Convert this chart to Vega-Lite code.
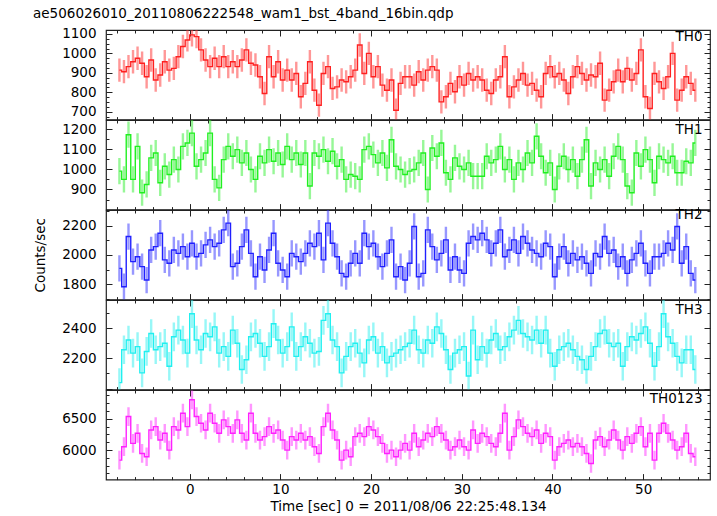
{
"$schema": "https://vega.github.io/schema/vega-lite/v6.json",
"padding": {"left": 33, "top": 6, "right": 5, "bottom": 5},
"title": {"text": "ae506026010_20110806222548_wam1_bst_4band_16bin.qdp", "anchor": "start", "fontSize": 13.5, "fontWeight": "normal", "font": "DejaVu Sans", "color": "#000", "offset": 6},
"datasets": {
"errs": [{"band":"TH0","err":60},{"band":"TH1","err":65},{"band":"TH2","err":90},{"band":"TH3","err":95},{"band":"TH0123","err":150}],
"lc": [
{"t":-7.75,"TH0":914,"TH1":991,"TH2":1908,"TH3":2039,"TH0123":5839},
{"t":-7.25,"TH0":906,"TH1":950,"TH2":1782,"TH3":2257,"TH0123":6054},
{"t":-6.75,"TH0":932,"TH1":1172,"TH2":2126,"TH3":2322,"TH0123":6538},
{"t":-6.25,"TH0":957,"TH1":950,"TH2":1954,"TH3":2235,"TH0123":6108},
{"t":-5.75,"TH0":975,"TH1":1114,"TH2":1988,"TH3":2278,"TH0123":6269},
{"t":-5.25,"TH0":949,"TH1":884,"TH2":1920,"TH3":2104,"TH0123":5946},
{"t":-4.75,"TH0":880,"TH1":925,"TH2":1828,"TH3":2246,"TH0123":5893},
{"t":-4.25,"TH0":966,"TH1":1057,"TH2":2034,"TH3":2365,"TH0123":6323},
{"t":-3.75,"TH0":863,"TH1":1081,"TH2":2057,"TH3":2257,"TH0123":6376},
{"t":-3.25,"TH0":889,"TH1":933,"TH2":2149,"TH3":2278,"TH0123":6161},
{"t":-2.75,"TH0":957,"TH1":1015,"TH2":1966,"TH3":2300,"TH0123":6269},
{"t":-2.25,"TH0":914,"TH1":974,"TH2":1943,"TH3":2148,"TH0123":6000},
{"t":-1.75,"TH0":923,"TH1":1048,"TH2":2034,"TH3":2343,"TH0123":6376},
{"t":-1.25,"TH0":983,"TH1":999,"TH2":2011,"TH3":2387,"TH0123":6323},
{"t":-0.75,"TH0":1035,"TH1":1114,"TH2":2057,"TH3":2322,"TH0123":6591},
{"t":-0.25,"TH0":1069,"TH1":1131,"TH2":1988,"TH3":2235,"TH0123":6376},
{"t":0.25,"TH0":1095,"TH1":1180,"TH2":2080,"TH3":2496,"TH0123":6806},
{"t":0.75,"TH0":1086,"TH1":1015,"TH2":1988,"TH3":2322,"TH0123":6538},
{"t":1.25,"TH0":1018,"TH1":1048,"TH2":2011,"TH3":2257,"TH0123":6430},
{"t":1.75,"TH0":966,"TH1":1081,"TH2":2069,"TH3":2365,"TH0123":6323},
{"t":2.25,"TH0":932,"TH1":1180,"TH2":2103,"TH3":2343,"TH0123":6591},
{"t":2.75,"TH0":975,"TH1":950,"TH2":2057,"TH3":2409,"TH0123":6430},
{"t":3.25,"TH0":932,"TH1":908,"TH2":2080,"TH3":2235,"TH0123":6269},
{"t":3.75,"TH0":983,"TH1":1048,"TH2":2172,"TH3":2278,"TH0123":6484},
{"t":4.25,"TH0":932,"TH1":1114,"TH2":2218,"TH3":2213,"TH0123":6376},
{"t":4.75,"TH0":957,"TH1":1065,"TH2":1920,"TH3":2387,"TH0123":6269},
{"t":5.25,"TH0":932,"TH1":1098,"TH2":1943,"TH3":2300,"TH0123":6484},
{"t":5.75,"TH0":966,"TH1":1032,"TH2":2057,"TH3":2126,"TH0123":6269},
{"t":6.25,"TH0":1018,"TH1":1081,"TH2":2172,"TH3":2191,"TH0123":6161},
{"t":6.75,"TH0":949,"TH1":999,"TH2":2011,"TH3":2343,"TH0123":6591},
{"t":7.25,"TH0":940,"TH1":950,"TH2":1851,"TH3":2365,"TH0123":6269},
{"t":7.75,"TH0":880,"TH1":1065,"TH2":1988,"TH3":2300,"TH0123":6161},
{"t":8.25,"TH0":794,"TH1":1032,"TH2":1897,"TH3":2213,"TH0123":6215},
{"t":8.75,"TH0":983,"TH1":1098,"TH2":2034,"TH3":2278,"TH0123":6376},
{"t":9.25,"TH0":880,"TH1":1040,"TH2":2149,"TH3":2430,"TH0123":6269},
{"t":9.75,"TH0":957,"TH1":1081,"TH2":1943,"TH3":2322,"TH0123":6323},
{"t":10.25,"TH0":863,"TH1":1024,"TH2":1897,"TH3":2235,"TH0123":6161},
{"t":10.75,"TH0":914,"TH1":1114,"TH2":1851,"TH3":2278,"TH0123":6000},
{"t":11.25,"TH0":863,"TH1":1048,"TH2":2011,"TH3":2409,"TH0123":6215},
{"t":11.75,"TH0":897,"TH1":1081,"TH2":1988,"TH3":2213,"TH0123":6161},
{"t":12.25,"TH0":777,"TH1":1024,"TH2":1954,"TH3":2278,"TH0123":6269},
{"t":12.75,"TH0":846,"TH1":1081,"TH2":2011,"TH3":2343,"TH0123":6161},
{"t":13.25,"TH0":957,"TH1":917,"TH2":2080,"TH3":2300,"TH0123":6215},
{"t":13.75,"TH0":811,"TH1":1081,"TH2":2057,"TH3":2235,"TH0123":6054},
{"t":14.25,"TH0":734,"TH1":1065,"TH2":2149,"TH3":2246,"TH0123":5946},
{"t":14.75,"TH0":897,"TH1":1098,"TH2":1966,"TH3":2452,"TH0123":6376},
{"t":15.25,"TH0":932,"TH1":1040,"TH2":2218,"TH3":2496,"TH0123":6591},
{"t":15.75,"TH0":820,"TH1":1090,"TH2":2080,"TH3":2322,"TH0123":6323},
{"t":16.25,"TH0":828,"TH1":1015,"TH2":1988,"TH3":2278,"TH0123":6161},
{"t":16.75,"TH0":863,"TH1":1048,"TH2":1874,"TH3":2104,"TH0123":5839},
{"t":17.25,"TH0":854,"TH1":950,"TH2":1851,"TH3":2213,"TH0123":6000},
{"t":17.75,"TH0":880,"TH1":974,"TH2":1943,"TH3":2278,"TH0123":5893},
{"t":18.25,"TH0":914,"TH1":966,"TH2":2011,"TH3":2300,"TH0123":6215},
{"t":18.75,"TH0":1043,"TH1":950,"TH2":1943,"TH3":2235,"TH0123":6269},
{"t":19.25,"TH0":897,"TH1":1098,"TH2":2149,"TH3":2170,"TH0123":6215},
{"t":19.75,"TH0":1000,"TH1":1114,"TH2":2057,"TH3":2322,"TH0123":6376},
{"t":20.25,"TH0":880,"TH1":1073,"TH2":2080,"TH3":2343,"TH0123":6323},
{"t":20.75,"TH0":932,"TH1":1032,"TH2":1988,"TH3":2235,"TH0123":6215},
{"t":21.25,"TH0":837,"TH1":1081,"TH2":1920,"TH3":2278,"TH0123":6108},
{"t":21.75,"TH0":811,"TH1":1007,"TH2":2011,"TH3":2170,"TH0123":5946},
{"t":22.25,"TH0":863,"TH1":1147,"TH2":2103,"TH3":2213,"TH0123":6000},
{"t":22.75,"TH0":708,"TH1":1015,"TH2":1851,"TH3":2235,"TH0123":5893},
{"t":23.25,"TH0":846,"TH1":999,"TH2":1920,"TH3":2257,"TH0123":6000},
{"t":23.75,"TH0":880,"TH1":974,"TH2":1828,"TH3":2278,"TH0123":6108},
{"t":24.25,"TH0":880,"TH1":991,"TH2":1943,"TH3":2300,"TH0123":6000},
{"t":24.75,"TH0":837,"TH1":999,"TH2":2195,"TH3":2387,"TH0123":6269},
{"t":25.25,"TH0":906,"TH1":1032,"TH2":1851,"TH3":2257,"TH0123":6054},
{"t":25.75,"TH0":863,"TH1":1081,"TH2":1874,"TH3":2235,"TH0123":6161},
{"t":26.25,"TH0":914,"TH1":900,"TH2":2172,"TH3":2322,"TH0123":6269},
{"t":26.75,"TH0":932,"TH1":1106,"TH2":2057,"TH3":2300,"TH0123":6215},
{"t":27.25,"TH0":914,"TH1":1065,"TH2":1966,"TH3":2409,"TH0123":6376},
{"t":27.75,"TH0":751,"TH1":1131,"TH2":2011,"TH3":2365,"TH0123":6269},
{"t":28.25,"TH0":777,"TH1":983,"TH2":2103,"TH3":2257,"TH0123":6161},
{"t":28.75,"TH0":846,"TH1":950,"TH2":1897,"TH3":2126,"TH0123":6000},
{"t":29.25,"TH0":803,"TH1":1057,"TH2":1988,"TH3":2235,"TH0123":6054},
{"t":29.75,"TH0":880,"TH1":1015,"TH2":1897,"TH3":2257,"TH0123":6161},
{"t":30.25,"TH0":837,"TH1":999,"TH2":1874,"TH3":2278,"TH0123":6054},
{"t":30.75,"TH0":897,"TH1":1032,"TH2":2080,"TH3":2083,"TH0123":6000},
{"t":31.25,"TH0":863,"TH1":966,"TH2":2126,"TH3":2387,"TH0123":6323},
{"t":31.75,"TH0":880,"TH1":966,"TH2":2103,"TH3":2191,"TH0123":6108},
{"t":32.25,"TH0":863,"TH1":966,"TH2":2149,"TH3":2278,"TH0123":6269},
{"t":32.75,"TH0":811,"TH1":1065,"TH2":2103,"TH3":2235,"TH0123":6215},
{"t":33.25,"TH0":794,"TH1":1032,"TH2":2011,"TH3":2322,"TH0123":6108},
{"t":33.75,"TH0":863,"TH1":1048,"TH2":2080,"TH3":2365,"TH0123":6054},
{"t":34.25,"TH0":880,"TH1":1114,"TH2":2172,"TH3":2257,"TH0123":6269},
{"t":34.75,"TH0":983,"TH1":999,"TH2":1988,"TH3":2278,"TH0123":6591},
{"t":35.25,"TH0":777,"TH1":1048,"TH2":2034,"TH3":2343,"TH0123":6000},
{"t":35.75,"TH0":828,"TH1":950,"TH2":2103,"TH3":2387,"TH0123":6215},
{"t":36.25,"TH0":863,"TH1":1032,"TH2":2011,"TH3":2452,"TH0123":6484},
{"t":36.75,"TH0":897,"TH1":999,"TH2":2126,"TH3":2365,"TH0123":6376},
{"t":37.25,"TH0":837,"TH1":1081,"TH2":2080,"TH3":2343,"TH0123":6269},
{"t":37.75,"TH0":846,"TH1":1032,"TH2":2034,"TH3":2322,"TH0123":6215},
{"t":38.25,"TH0":811,"TH1":1164,"TH2":2011,"TH3":2387,"TH0123":6323},
{"t":38.75,"TH0":777,"TH1":1065,"TH2":1988,"TH3":2300,"TH0123":6108},
{"t":39.25,"TH0":897,"TH1":983,"TH2":2080,"TH3":2387,"TH0123":6269},
{"t":39.75,"TH0":932,"TH1":1032,"TH2":2057,"TH3":2235,"TH0123":6215},
{"t":40.25,"TH0":880,"TH1":900,"TH2":1851,"TH3":2148,"TH0123":5839},
{"t":40.75,"TH0":897,"TH1":1015,"TH2":1988,"TH3":2257,"TH0123":6054},
{"t":41.25,"TH0":863,"TH1":1065,"TH2":2057,"TH3":2278,"TH0123":6108},
{"t":41.75,"TH0":794,"TH1":999,"TH2":1943,"TH3":2300,"TH0123":6161},
{"t":42.25,"TH0":880,"TH1":1048,"TH2":2011,"TH3":2257,"TH0123":6054},
{"t":42.75,"TH0":932,"TH1":966,"TH2":1966,"TH3":2213,"TH0123":6108},
{"t":43.25,"TH0":897,"TH1":1048,"TH2":1988,"TH3":2191,"TH0123":6054},
{"t":43.75,"TH0":863,"TH1":1147,"TH2":1943,"TH3":2126,"TH0123":5946},
{"t":44.25,"TH0":889,"TH1":917,"TH2":1874,"TH3":2213,"TH0123":5785},
{"t":44.75,"TH0":880,"TH1":1032,"TH2":2011,"TH3":2278,"TH0123":6161},
{"t":45.25,"TH0":949,"TH1":999,"TH2":1988,"TH3":2365,"TH0123":6215},
{"t":45.75,"TH0":760,"TH1":1048,"TH2":2126,"TH3":2387,"TH0123":6054},
{"t":46.25,"TH0":811,"TH1":966,"TH2":2011,"TH3":2300,"TH0123":6161},
{"t":46.75,"TH0":854,"TH1":1065,"TH2":2034,"TH3":2278,"TH0123":6323},
{"t":47.25,"TH0":914,"TH1":1114,"TH2":1920,"TH3":2300,"TH0123":6161},
{"t":47.75,"TH0":854,"TH1":1048,"TH2":1988,"TH3":2148,"TH0123":6000},
{"t":48.25,"TH0":923,"TH1":917,"TH2":1874,"TH3":2278,"TH0123":6215},
{"t":48.75,"TH0":863,"TH1":884,"TH2":1966,"TH3":2343,"TH0123":6108},
{"t":49.25,"TH0":897,"TH1":1081,"TH2":2011,"TH3":2322,"TH0123":6269},
{"t":49.75,"TH0":1018,"TH1":1015,"TH2":2080,"TH3":2365,"TH0123":6376},
{"t":50.25,"TH0":777,"TH1":1098,"TH2":1943,"TH3":2409,"TH0123":6054},
{"t":50.75,"TH0":717,"TH1":1048,"TH2":1874,"TH3":2300,"TH0123":6269},
{"t":51.25,"TH0":897,"TH1":933,"TH2":1988,"TH3":2148,"TH0123":5839},
{"t":51.75,"TH0":854,"TH1":1065,"TH2":1988,"TH3":2278,"TH0123":6269},
{"t":52.25,"TH0":820,"TH1":1048,"TH2":2011,"TH3":2496,"TH0123":6430},
{"t":52.75,"TH0":880,"TH1":1032,"TH2":2080,"TH3":2343,"TH0123":6269},
{"t":53.25,"TH0":1000,"TH1":1065,"TH2":2034,"TH3":2300,"TH0123":6161},
{"t":53.75,"TH0":760,"TH1":983,"TH2":2195,"TH3":2213,"TH0123":6000},
{"t":54.25,"TH0":811,"TH1":983,"TH2":1943,"TH3":2170,"TH0123":6054},
{"t":54.75,"TH0":880,"TH1":1040,"TH2":2057,"TH3":2257,"TH0123":6269},
{"t":55.25,"TH0":846,"TH1":1032,"TH2":1874,"TH3":2257,"TH0123":5946},
{"t":55.75,"TH0":811,"TH1":1131,"TH2":1828,"TH3":2126,"TH0123":5893}
]},
"data": {"name": "lc"},
"spacing": 0,
"bounds": "flush",
"vconcat": [
{
"width": 604, "height": 89.6,
"title": {"text": "TH0", "anchor": "end", "offset": -17, "dx": -8},
"transform": [{"fold": ["TH0"], "as": ["band", "v"]}, {"lookup": "band", "from": {"data": {"name": "errs"}, "key": "band", "fields": ["err"]}}],
"layer": [
{"mark": {"type": "errorbar", "color": "#ff3030", "opacity": 0.5, "thickness": 2.4, "clip": true},
"encoding": {
"x": {"field": "t", "type": "quantitative", "scale": {"domain": [-9.23, 57.37], "nice": false, "zero": false}, "axis": {"orient": "bottom", "labels": false, "title": null, "values": [-8,-6,-4,-2,0,2,4,6,8,10,12,14,16,18,20,22,24,26,28,30,32,34,36,38,40,42,44,46,48,50,52,54,56], "tickDash": {"condition": {"test": "datum.value % 10 !== 0", "value": [3, 40]}, "value": [8, 0]}}},
"y": {"field": "v", "type": "quantitative", "scale": {"domain": [660, 1120], "nice": false, "zero": false}, "axis": {"orient": "left", "title": null, "format": "d", "values": [675,700,725,750,775,800,825,850,875,900,925,950,975,1000,1025,1050,1075,1100], "labelExpr": "datum.value % 100 === 0 ? datum.label : ''", "tickDash": {"condition": {"test": "datum.value % 100 !== 0", "value": [3, 40]}, "value": [8, 0]}}},
"yError": {"field": "err"}}},
{"mark": {"type": "line", "interpolate": "step", "color": "#ff2020", "strokeWidth": 1.4, "clip": true},
"encoding": {
"x": {"field": "t", "type": "quantitative", "axis": {"orient": "top", "labels": false, "title": null, "values": [-8,-6,-4,-2,0,2,4,6,8,10,12,14,16,18,20,22,24,26,28,30,32,34,36,38,40,42,44,46,48,50,52,54,56], "tickDash": {"condition": {"test": "datum.value % 10 !== 0", "value": [3, 40]}, "value": [8, 0]}}},
"y": {"field": "v", "type": "quantitative", "axis": {"orient": "right", "labels": false, "title": null, "values": [675,700,725,750,775,800,825,850,875,900,925,950,975,1000,1025,1050,1075,1100], "tickDash": {"condition": {"test": "datum.value % 100 !== 0", "value": [3, 40]}, "value": [8, 0]}}}}}
],
"resolve": {"axis": {"x": "independent", "y": "independent"}}
},
{
"width": 604, "height": 89.6,
"title": {"text": "TH1", "anchor": "end", "offset": -17, "dx": -8},
"transform": [{"fold": ["TH1"], "as": ["band", "v"]}, {"lookup": "band", "from": {"data": {"name": "errs"}, "key": "band", "fields": ["err"]}}],
"layer": [
{"mark": {"type": "errorbar", "color": "#30f030", "opacity": 0.5, "thickness": 2.4, "clip": true},
"encoding": {
"x": {"field": "t", "type": "quantitative", "scale": {"domain": [-9.23, 57.37], "nice": false, "zero": false}, "axis": {"orient": "bottom", "labels": false, "title": null, "values": [-8,-6,-4,-2,0,2,4,6,8,10,12,14,16,18,20,22,24,26,28,30,32,34,36,38,40,42,44,46,48,50,52,54,56], "tickDash": {"condition": {"test": "datum.value % 10 !== 0", "value": [3, 40]}, "value": [8, 0]}}},
"y": {"field": "v", "type": "quantitative", "scale": {"domain": [800, 1245], "nice": false, "zero": false}, "axis": {"orient": "left", "title": null, "format": "d", "values": [850,900,950,1000,1050,1100,1150,1200], "labelExpr": "datum.value % 100 === 0 ? datum.label : ''", "tickDash": {"condition": {"test": "datum.value % 100 !== 0", "value": [3, 40]}, "value": [8, 0]}}},
"yError": {"field": "err"}}},
{"mark": {"type": "line", "interpolate": "step", "color": "#20f020", "strokeWidth": 1.4, "clip": true},
"encoding": {
"x": {"field": "t", "type": "quantitative", "axis": {"orient": "top", "labels": false, "title": null, "values": [-8,-6,-4,-2,0,2,4,6,8,10,12,14,16,18,20,22,24,26,28,30,32,34,36,38,40,42,44,46,48,50,52,54,56], "tickDash": {"condition": {"test": "datum.value % 10 !== 0", "value": [3, 40]}, "value": [8, 0]}}},
"y": {"field": "v", "type": "quantitative", "axis": {"orient": "right", "labels": false, "title": null, "values": [850,900,950,1000,1050,1100,1150,1200], "tickDash": {"condition": {"test": "datum.value % 100 !== 0", "value": [3, 40]}, "value": [8, 0]}}}}}
],
"resolve": {"axis": {"x": "independent", "y": "independent"}}
},
{
"width": 604, "height": 89.6,
"title": {"text": "TH2", "anchor": "end", "offset": -17, "dx": -8},
"transform": [{"fold": ["TH2"], "as": ["band", "v"]}, {"lookup": "band", "from": {"data": {"name": "errs"}, "key": "band", "fields": ["err"]}}],
"layer": [
{"mark": {"type": "errorbar", "color": "#3030ff", "opacity": 0.5, "thickness": 2.4, "clip": true},
"encoding": {
"x": {"field": "t", "type": "quantitative", "scale": {"domain": [-9.23, 57.37], "nice": false, "zero": false}, "axis": {"orient": "bottom", "labels": false, "title": null, "values": [-8,-6,-4,-2,0,2,4,6,8,10,12,14,16,18,20,22,24,26,28,30,32,34,36,38,40,42,44,46,48,50,52,54,56], "tickDash": {"condition": {"test": "datum.value % 10 !== 0", "value": [3, 40]}, "value": [8, 0]}}},
"y": {"field": "v", "type": "quantitative", "scale": {"domain": [1694, 2308], "nice": false, "zero": false}, "axis": {"orient": "left", "title": "Counts/sec", "format": "d", "values": [1700,1800,1900,2000,2100,2200,2300], "labelExpr": "datum.value % 200 === 0 ? datum.label : ''", "tickDash": {"condition": {"test": "datum.value % 200 !== 0", "value": [3, 40]}, "value": [8, 0]}}},
"yError": {"field": "err"}}},
{"mark": {"type": "line", "interpolate": "step", "color": "#2020ff", "strokeWidth": 1.4, "clip": true},
"encoding": {
"x": {"field": "t", "type": "quantitative", "axis": {"orient": "top", "labels": false, "title": null, "values": [-8,-6,-4,-2,0,2,4,6,8,10,12,14,16,18,20,22,24,26,28,30,32,34,36,38,40,42,44,46,48,50,52,54,56], "tickDash": {"condition": {"test": "datum.value % 10 !== 0", "value": [3, 40]}, "value": [8, 0]}}},
"y": {"field": "v", "type": "quantitative", "axis": {"orient": "right", "labels": false, "title": null, "values": [1700,1800,1900,2000,2100,2200,2300], "tickDash": {"condition": {"test": "datum.value % 200 !== 0", "value": [3, 40]}, "value": [8, 0]}}}}}
],
"resolve": {"axis": {"x": "independent", "y": "independent"}}
},
{
"width": 604, "height": 89.6,
"title": {"text": "TH3", "anchor": "end", "offset": -17, "dx": -8},
"transform": [{"fold": ["TH3"], "as": ["band", "v"]}, {"lookup": "band", "from": {"data": {"name": "errs"}, "key": "band", "fields": ["err"]}}],
"layer": [
{"mark": {"type": "errorbar", "color": "#30f0f0", "opacity": 0.5, "thickness": 2.4, "clip": true},
"encoding": {
"x": {"field": "t", "type": "quantitative", "scale": {"domain": [-9.23, 57.37], "nice": false, "zero": false}, "axis": {"orient": "bottom", "labels": false, "title": null, "values": [-8,-6,-4,-2,0,2,4,6,8,10,12,14,16,18,20,22,24,26,28,30,32,34,36,38,40,42,44,46,48,50,52,54,56], "tickDash": {"condition": {"test": "datum.value % 10 !== 0", "value": [3, 40]}, "value": [8, 0]}}},
"y": {"field": "v", "type": "quantitative", "scale": {"domain": [1993, 2587], "nice": false, "zero": false}, "axis": {"orient": "left", "title": null, "format": "d", "values": [2000,2100,2200,2300,2400,2500], "labelExpr": "(datum.value === 2200 || datum.value === 2400) ? datum.label : ''", "tickDash": {"condition": {"test": "datum.value % 200 !== 0", "value": [3, 40]}, "value": [8, 0]}}},
"yError": {"field": "err"}}},
{"mark": {"type": "line", "interpolate": "step", "color": "#20f0f0", "strokeWidth": 1.4, "clip": true},
"encoding": {
"x": {"field": "t", "type": "quantitative", "axis": {"orient": "top", "labels": false, "title": null, "values": [-8,-6,-4,-2,0,2,4,6,8,10,12,14,16,18,20,22,24,26,28,30,32,34,36,38,40,42,44,46,48,50,52,54,56], "tickDash": {"condition": {"test": "datum.value % 10 !== 0", "value": [3, 40]}, "value": [8, 0]}}},
"y": {"field": "v", "type": "quantitative", "axis": {"orient": "right", "labels": false, "title": null, "values": [2000,2100,2200,2300,2400,2500], "tickDash": {"condition": {"test": "datum.value % 200 !== 0", "value": [3, 40]}, "value": [8, 0]}}}}}
],
"resolve": {"axis": {"x": "independent", "y": "independent"}}
},
{
"width": 604, "height": 89.6,
"title": {"text": "TH0123", "anchor": "end", "offset": -17, "dx": -8},
"transform": [{"fold": ["TH0123"], "as": ["band", "v"]}, {"lookup": "band", "from": {"data": {"name": "errs"}, "key": "band", "fields": ["err"]}}],
"layer": [
{"mark": {"type": "errorbar", "color": "#ff30ff", "opacity": 0.5, "thickness": 2.4, "clip": true},
"encoding": {
"x": {"field": "t", "type": "quantitative", "scale": {"domain": [-9.23, 57.37], "nice": false, "zero": false}, "axis": {"orient": "bottom", "labels": true, "title": "Time [sec] 0 = 2011/08/06 22:25:48.134", "values": [-8,-6,-4,-2,0,2,4,6,8,10,12,14,16,18,20,22,24,26,28,30,32,34,36,38,40,42,44,46,48,50,52,54,56], "labelExpr": "datum.value % 10 === 0 ? datum.label : ''", "tickDash": {"condition": {"test": "datum.value % 10 !== 0", "value": [3, 40]}, "value": [8, 0]}}},
"y": {"field": "v", "type": "quantitative", "scale": {"domain": [5527, 6963], "nice": false, "zero": false}, "axis": {"orient": "left", "title": null, "format": "d", "values": [5625,5750,5875,6000,6125,6250,6375,6500,6625,6750,6875], "labelExpr": "datum.value % 500 === 0 ? datum.label : ''", "tickDash": {"condition": {"test": "datum.value % 500 !== 0", "value": [3, 40]}, "value": [8, 0]}}},
"yError": {"field": "err"}}},
{"mark": {"type": "line", "interpolate": "step", "color": "#ff20ff", "strokeWidth": 1.4, "clip": true},
"encoding": {
"x": {"field": "t", "type": "quantitative", "axis": {"orient": "top", "labels": false, "title": null, "values": [-8,-6,-4,-2,0,2,4,6,8,10,12,14,16,18,20,22,24,26,28,30,32,34,36,38,40,42,44,46,48,50,52,54,56], "tickDash": {"condition": {"test": "datum.value % 10 !== 0", "value": [3, 40]}, "value": [8, 0]}}},
"y": {"field": "v", "type": "quantitative", "axis": {"orient": "right", "labels": false, "title": null, "values": [5625,5750,5875,6000,6125,6250,6375,6500,6625,6750,6875], "tickDash": {"condition": {"test": "datum.value % 500 !== 0", "value": [3, 40]}, "value": [8, 0]}}}}}
],
"resolve": {"axis": {"x": "independent", "y": "independent"}}
}
],
"config": {
"view": {"stroke": "#222", "strokeWidth": 1.2},
"title": {"font": "DejaVu Sans", "fontSize": 13.5, "fontWeight": "normal", "color": "#000"},
"axis": {"domain": false, "grid": false, "tickSize": -6, "tickColor": "#222", "tickWidth": 1, "labelFont": "DejaVu Sans", "labelFontSize": 13.5, "labelColor": "#000", "labelPadding": 16, "labelFlush": false, "labelOverlap": false, "titleFont": "DejaVu Sans", "titleFontSize": 13.5, "titleFontWeight": "normal", "titleColor": "#000", "titlePadding": 14},
"axisBottom": {"labelPadding": 9, "titlePadding": 3}
}
}
